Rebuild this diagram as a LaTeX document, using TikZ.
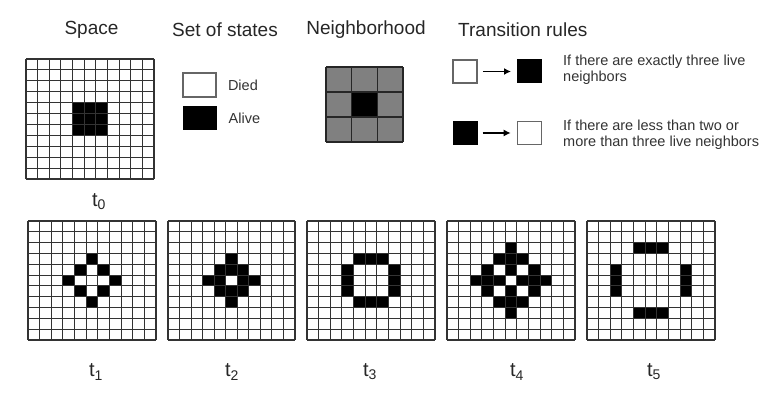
\documentclass[tikz,border=0pt]{standalone}
\usepackage{fontspec}
\setmainfont{Liberation Sans}
\usetikzlibrary{positioning,arrows.meta}

\tikzset{
  title/.style={font=\fontsize{19}{22}\selectfont, text=black!85, inner sep=0pt},
  smalltext/.style={font=\fontsize{14.5}{16.5}\selectfont, text=black!80, inner sep=0pt, align=left},
  steplabel/.style={font=\fontsize{20}{22}\selectfont, text=black!85, inner sep=0pt},
  gridline/.style={line width=1.1pt, black!80},
  deadcell/.style={draw=black!60, line width=1.6pt, fill=white, inner sep=0pt},
  alivecell/.style={draw=black, line width=1pt, fill=black, inner sep=0pt},
  rulebox/.style={minimum width=24pt, minimum height=23pt},
  rulearrow/.style={->, >={Latex[length=7pt,width=7pt]}, line width=1.6pt, shorten <=5pt, shorten >=6pt}
}

% #1 left, #2 top, #3 width, #4 height, #5 live cells (col/row from top left)
\newcommand{\lifegrid}[5]{%
  \foreach \c/\r in {#5}
    \fill (#1+\c*#3/11, #2-\r*#4/11) rectangle ++(#3/11, -#4/11);
  \foreach \i in {0,...,11} {
    \draw[gridline] (#1+\i*#3/11, #2) -- ++(0, -#4);
    \draw[gridline] (#1, #2-\i*#4/11) -- ++(#3, 0);
  }
}

\begin{document}
\begin{tikzpicture}[x=1pt, y=1pt]
  \useasboundingbox (0,0) rectangle (780,401);

  % headings
  \node[title] (space) at (91.5,371) {Space};
  \node[title] (states) at (225,371) {Set of states};
  \node[title] (nbhd) at (366,371) {Neighborhood};
  \node[title, anchor=west] (rules) at (458,371) {Transition rules};

  % space at t0
  \lifegrid{26}{342}{128}{120}{4/4,5/4,6/4,4/5,5/5,6/5,4/6,5/6,6/6}
  \node[steplabel] (lt0) at (99,199) {t\textsubscript{0}};

  % set of states
  \node[deadcell, minimum width=33pt, minimum height=24pt] (died) at (199.5,316) {};
  \node[alivecell, minimum width=33pt, minimum height=23pt] (alive) at (199.5,282.5) {};
  \node[smalltext, right=11pt of died] (diedtext) {Died};
  \node[smalltext, right=12pt of alive] (alivetext) {Alive};

  % neighborhood
  \fill[black!50] (326,259) rectangle (403,334);
  \fill (351.67,284) rectangle (377.33,309);
  \foreach \i in {0,...,3} {
    \draw[line width=1.4pt, black!85] (326+\i*77/3,259) -- ++(0,75);
    \draw[line width=1.4pt, black!85] (326,259+\i*25) -- ++(77,0);
  }

  % transition rules
  \node[deadcell, rulebox] (from1) at (465,329.5) {};
  \node[alivecell, rulebox] (to1) at (529.5,329.5) {};
  \draw[rulearrow] (from1) -- (to1);
  \node[smalltext, anchor=west] (rule1) at (563,331) {If there are exactly three live\\neighbors};

  \node[alivecell, rulebox] (from2) at (465,268) {};
  \node[deadcell, rulebox] (to2) at (529.5,268) {};
  \draw[rulearrow] (from2) -- (to2);
  \node[smalltext, anchor=west] (rule2) at (563,266) {If there are less than two or\\more than three live neighbors};

  % generations t1 to t5
  \lifegrid{28}{180}{128}{119}{5/3,4/4,6/4,3/5,7/5,4/6,6/6,5/7}
  \lifegrid{168}{180}{127}{119}{5/3,4/4,5/4,6/4,3/5,4/5,6/5,7/5,4/6,5/6,6/6,5/7}
  \lifegrid{307}{180}{128}{119}{4/3,5/3,6/3,3/4,7/4,3/5,7/5,3/6,7/6,4/7,5/7,6/7}
  \lifegrid{447}{180}{128}{119}{5/2,4/3,5/3,6/3,3/4,5/4,7/4,2/5,3/5,4/5,6/5,7/5,8/5,3/6,5/6,7/6,4/7,5/7,6/7,5/8}
  \lifegrid{587}{180}{128}{119}{4/2,5/2,6/2,2/4,2/5,2/6,8/4,8/5,8/6,4/8,5/8,6/8}

  \node[steplabel] (lt1) at (96,29) {t\textsubscript{1}};
  \node[steplabel] (lt2) at (232,29) {t\textsubscript{2}};
  \node[steplabel] (lt3) at (370,29) {t\textsubscript{3}};
  \node[steplabel] (lt4) at (517,29) {t\textsubscript{4}};
  \node[steplabel] (lt5) at (654,29) {t\textsubscript{5}};
\end{tikzpicture}
\end{document}
